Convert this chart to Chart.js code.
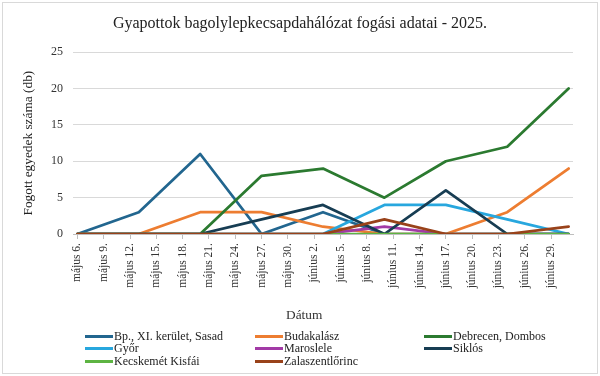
<!DOCTYPE html>
<html lang="hu">
<head>
<meta charset="utf-8">
<script src="https://cdn.jsdelivr.net/npm/chart.js@4/dist/chart.umd.min.js"></script>
<style>
    body { margin: 0; background: #fff; }
    #wrap { position: relative; width: 600px; height: 376px; overflow: hidden; }
    #chart { position: absolute; left: 0; top: 0; }
    #frame {
        position: absolute; left: 2px; top: 2px; width: 594px; height: 370px;
        border: 1px solid #d9d9d9; pointer-events: none;
    }
    #xTitle {
        position: absolute; left: 286px; top: 307px;
        font: 13.33px 'Liberation Serif', 'Times New Roman', serif; color: #333;
        line-height: 16px; white-space: nowrap;
    }
    #legend {
        position: absolute; left: 85px; top: 330px;
        display: grid; grid-template-columns: 170px 169px 170px;
        font: 12px 'Liberation Serif', 'Times New Roman', serif; color: #222;
    }
    #legend .item { display: flex; align-items: center; height: 12.5px; white-space: nowrap; }
    #legend .swatch { width: 28px; height: 3px; margin-right: 1px; }
</style>
</head>
<body>
<div id="wrap">
    <canvas id="chart" width="600" height="376"></canvas>
    <div id="xTitle">Dátum</div>
    <div id="legend"></div>
    <div id="frame"></div>
</div>
<script>
// Weekly trap readings; the axis itself is a continuous day axis (Excel date axis).
const sampleDates = ['2025-05-06', '2025-05-13', '2025-05-20', '2025-05-27', '2025-06-03',
    '2025-06-10', '2025-06-17', '2025-06-24', '2025-07-01'];

const tickLabels = ['május 6.', 'május 9.', 'május 12.', 'május 15.', 'május 18.', 'május 21.',
    'május 24.', 'május 27.', 'május 30.', 'június 2.', 'június 5.', 'június 8.', 'június 11.',
    'június 14.', 'június 17.', 'június 20.', 'június 23.', 'június 26.', 'június 29.'];

const sasad = [0, 3, 11, 0, 3, 0, 0, 0, 0];
const budakalasz = [0, 0, 3, 3, 1, 0, 0, 3, 9];
const debrecen = [0, 0, 0, 8, 9, 5, 10, 12, 20];
const gyor = [0, 0, 0, 0, 0, 4, 4, 2, 0];
const maroslele = [0, 0, 0, 0, 0, 1, 0, 0, 0];
const siklos = [0, 0, 0, 2, 4, 0, 6, 0, 0];
const kecskemet = [0, 0, 0, 0, 0, 0, 0, 0, 0];
const zalaszentlorinc = [0, 0, 0, 0, 0, 2, 0, 0, 1];

const SERIES = [
    { label: 'Bp., XI. kerület, Sasad', values: sasad, color: '#22668f' },
    { label: 'Budakalász', values: budakalasz, color: '#ed7d31' },
    { label: 'Debrecen, Dombos', values: debrecen, color: '#2b7a30' },
    { label: 'Győr', values: gyor, color: '#28a7de' },
    { label: 'Maroslele', values: maroslele, color: '#a23aa6' },
    { label: 'Siklós', values: siklos, color: '#173d53' },
    { label: 'Kecskemét Kisfái', values: kecskemet, color: '#5db442' },
    { label: 'Zalaszentlőrinc', values: zalaszentlorinc, color: '#99421a' },
];

const DAY = 864e5;
const day0 = Date.parse(sampleDates[0]);
const sampleDays = sampleDates.map(d => Math.round((Date.parse(d) - day0) / DAY));
const tickDays = tickLabels.map((_, i) => i * 3);   // labels every third day

const SERIF = "'Liberation Serif', 'Times New Roman', serif";

const datasets = SERIES.map((s, i) => ({
    label: s.label,
    data: s.values.map((v, j) => ({ x: sampleDays[j], y: v })),
    borderColor: s.color,
    backgroundColor: s.color,
    borderWidth: 2.75,
    pointRadius: 0,
    tension: 0,
    borderJoinStyle: 'round',
    borderCapStyle: 'round',
    // Excel paints later series on top; Chart.js paints the lowest order last.
    order: SERIES.length - i,
}));

new Chart(document.getElementById('chart'), {
    type: 'line',
    data: { datasets },
    options: {
        responsive: false,
        animation: false,
        devicePixelRatio: 1,
        layout: { padding: { left: 27, right: 27, top: 0, bottom: 0 } },
        plugins: {
            legend: { display: false },
            tooltip: { enabled: false },
            title: {
                display: true,
                text: 'Gyapottok bagolylepkecsapdahálózat fogási adatai - 2025.',
                color: '#222',
                font: { family: SERIF, size: 16, weight: 'normal' },
                padding: { top: 14, bottom: 19 },
            },
        },
        scales: {
            x: {
                type: 'linear',
                min: -0.5,
                max: 56.5,
                afterBuildTicks: axis => { axis.ticks = tickDays.map(v => ({ value: v })); },
                afterFit: axis => { axis.height = 142; },
                grid: { drawOnChartArea: false, drawTicks: true, tickLength: 5, color: '#bfbfbf' },
                border: { color: '#bfbfbf' },
                ticks: {
                    autoSkip: false,
                    minRotation: 90,
                    maxRotation: 90,
                    padding: 4,
                    color: '#333',
                    font: { family: SERIF, size: 11.5 },
                    callback: v => tickLabels[Math.round(v / 3)],
                },
            },
            y: {
                min: 0,
                max: 25,
                afterFit: axis => { axis.width = 46; },
                grid: { color: '#d9d9d9', drawTicks: false },
                border: { display: false },
                ticks: { stepSize: 5, padding: 10, color: '#333', font: { family: SERIF, size: 12 } },
                title: {
                    display: true,
                    text: 'Fogott egyedek száma (db)',
                    color: '#222',
                    font: { family: SERIF, size: 13.33, weight: 'normal' },
                    padding: { top: -7, bottom: 0 },
                },
            },
        },
    },
});

// Legend as three fixed columns, the way the spreadsheet lays it out.
const legend = document.getElementById('legend');
SERIES.forEach(s => {
    const item = document.createElement('div');
    item.className = 'item';
    const sw = document.createElement('span');
    sw.className = 'swatch';
    sw.style.background = s.color;
    item.appendChild(sw);
    item.appendChild(document.createTextNode(s.label));
    legend.appendChild(item);
});
</script>
</body>
</html>
